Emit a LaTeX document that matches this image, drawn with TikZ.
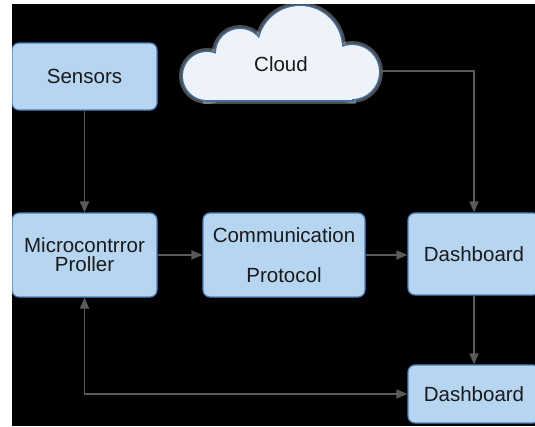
\documentclass[tikz,border=0pt]{standalone}
\usepackage{fontspec}
\setmainfont{Liberation Sans}
\usetikzlibrary{arrows.meta}
\definecolor{boxfill}{HTML}{B5D5F1}
\definecolor{boxline}{HTML}{4F7FB8}
\definecolor{cloudfill}{HTML}{EEF3FA}
\definecolor{cloudline}{HTML}{3E6EA6}
\definecolor{wire}{HTML}{5A5A5A}
\definecolor{ink}{HTML}{1A1A1A}
\begin{document}
\begin{tikzpicture}[x=1pt,y=-1pt,
  block/.style={draw=boxline, line width=1.2pt, fill=boxfill, rounded corners=7pt,
    inner sep=0pt, text=ink, font=\fontsize{20.5}{19}\selectfont, align=center},
  label/.style={text=ink, font=\fontsize{20.5}{19}\selectfont},
  flow/.style={draw=wire, line width=1.6pt, -{Triangle[length=11pt,width=9pt]}},
  halo/.style={draw=white, draw opacity=0.3, line width=8pt},
  rim/.style={draw=cloudline, line width=3pt},
  body/.style={fill=cloudfill},
]
\useasboundingbox (0,0) rectangle (535,426);
\fill[white] (0,0) rectangle (535,426);
\fill[black] (12,4) rectangle (535,426);
\begin{scope}
\clip (12,4) rectangle (535,426);

% cloud: soft halo, outline, then the filled body on top, lobe by lobe
\foreach \layer in {halo,rim,body}{
  \foreach \cx/\cy/\r in {207/76/24, 240/53/24, 300/48/42, 352/72/27}
    \path[\layer] (\cx,\cy) circle[radius=\r];
  \path[\layer] (207,58) rectangle (352,100);
}
\node[label] (cloud) at (281,64) {Cloud};
\coordinate (cloudE) at (379,71);

% blocks
\node[block, minimum width=145pt, minimum height=67pt] (sensors) at (84.5,76.5) {Sensors};
\node[block, minimum width=145pt, minimum height=84pt] (micro) at (84.5,255) {Microcontrror\\Proller};
\node[block, minimum width=162pt, minimum height=84pt] (comm) at (284,255) {Communication\\[21pt]Protocol};
\node[block, minimum width=132pt, minimum height=82pt] (dash1) at (474,254) {Dashboard};
\node[block, minimum width=132pt, minimum height=58pt] (dash2) at (474,394) {Dashboard};

% connectors
\draw[flow] (sensors.south) -- (micro.north);
\draw[flow] (micro.east) -- (micro.east -| comm.west);
\draw[flow] (comm.east) -- (comm.east -| dash1.west);
\draw[flow] (cloudE) -| (dash1.north);
\draw[flow] (dash1.south) -- (dash2.north);
\draw[flow, {Triangle[length=11pt,width=9pt]}-{Triangle[length=11pt,width=9pt]}]
  (micro.south) |- (dash2.west);
\end{scope}
\end{tikzpicture}
\end{document}
